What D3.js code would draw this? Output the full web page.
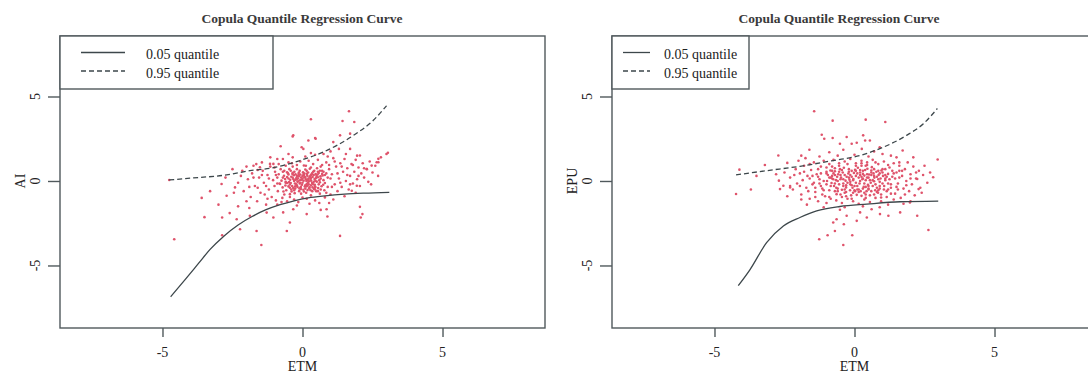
<!DOCTYPE html>
<html lang="en">
<head>
<meta charset="UTF-8">
<title>Copula Quantile Regression Curve</title>
<script src="https://d3js.org/d3.v7.min.js"></script>
<style>
    body { margin: 0; background: #fff; }
    svg { display: block; font-family: 'Liberation Serif', 'DejaVu Serif', serif; }
    .frame { fill: none; stroke: #50595c; stroke-width: 1.4; }
    .tick line { stroke: #50595c; stroke-width: 1.4; }
    .lbl { font-size: 14px; fill: #222; }
    .title { font-size: 13.5px; font-weight: bold; fill: #3a3a3a; }
    .curve { fill: none; stroke: #3d474b; stroke-width: 1.3; }
    .pt { fill: #DF536B; }
</style>
</head>
<body>
<svg id="chart" width="1088" height="372"></svg>
<script>
    const xTicks = [-5, 0, 5];
    const yTicks = [-5, 0, 5];
    const titleText = "Copula Quantile Regression Curve";
    const legendLabels = ["0.05 quantile", "0.95 quantile"];

    // quantile curves, left panel (ETM vs AI)
    const aiLowX = [-4.71, -4.2, -3.7, -3.3, -2.8, -2.3, -1.8, -1.3, -0.8, -0.3, 0.2, 0.8, 1.5, 2.2, 3.1];
    const aiLowY = [-6.85, -5.85, -4.85, -4.05, -3.25, -2.6, -2.1, -1.7, -1.4, -1.17, -1.0, -0.88, -0.78, -0.72, -0.67];
    const aiHighX = [-4.76, -3.9, -2.71, -1.88, -1.16, -0.09, 0.74, 1.82, 2.53, 3.0];
    const aiHighY = [0.06, 0.18, 0.36, 0.61, 0.75, 1.21, 1.71, 2.7, 3.59, 4.45];

    // quantile curves, right panel (ETM vs EPU)
    const epuLowX = [-4.15, -3.73, -3.14, -2.54, -1.95, -1.35, -0.52, 0.44, 1.63, 2.99];
    const epuLowY = [-6.19, -5.24, -3.65, -2.66, -2.16, -1.77, -1.51, -1.37, -1.23, -1.19];
    const epuHighX = [-4.23, -3.14, -1.95, -0.76, 0.2, 1.03, 1.86, 2.46, 2.96];
    const epuHighY = [0.36, 0.61, 0.87, 1.21, 1.51, 2.0, 2.7, 3.39, 4.29];

    // observations [ETM, AI]
    const aiPoints = [
        [-0.62,0.12],[-0.45,-0.21],[-0.31,0.34],[-0.18,-0.05],[-0.05,0.21],[0.08,-0.33],[0.21,0.15],[0.34,-0.12],[0.47,0.41],[0.6,0.05],
        [-0.71,-0.38],[-0.52,0.45],[-0.39,-0.62],[-0.24,0.08],[-0.11,-0.44],[0.02,0.52],[0.15,-0.18],[0.28,0.29],[0.41,-0.47],[0.55,0.22],
        [-0.66,0.31],[-0.48,-0.07],[-0.35,0.19],[-0.2,-0.28],[-0.08,0.05],[0.05,0.36],[0.18,-0.54],[0.31,0.02],[0.44,-0.23],[0.58,0.48],
        [-0.58,-0.55],[-0.42,0.61],[-0.27,-0.15],[-0.14,0.42],[0.0,-0.1],[0.12,0.1],[0.25,-0.38],[0.38,0.55],[0.51,-0.04],[0.68,-0.31],
        [-0.75,0.02],[-0.55,0.24],[-0.33,-0.41],[-0.16,0.27],[-0.02,-0.22],[0.1,0.68],[0.23,-0.02],[0.36,0.24],[0.49,-0.61],[0.72,0.33],
        [-0.8,-0.18],[-0.61,-0.27],[-0.44,0.07],[-0.29,0.55],[-0.12,-0.6],[0.04,0.01],[0.17,0.31],[0.3,-0.26],[0.43,0.12],[0.62,0.61],
        [-0.5,0.38],[-0.37,-0.3],[-0.22,0.18],[-0.06,-0.35],[0.07,0.44],[0.2,-0.1],[0.33,0.38],[0.46,-0.35],[0.65,0.14],[0.8,-0.12],
        [-0.28,-0.72],[-0.1,0.6],[0.13,-0.7],[0.26,0.72],[-0.47,0.7],[0.52,0.75],[0.75,0.55],[-0.68,-0.62],[0.0,0.3],[-0.15,-0.02],
        [0.1,-0.45],[0.4,0.35],[-0.25,0.4],[0.58,-0.2],[-0.4,-0.5],[0.9,0.2],[-0.85,0.4],[0.2,0.5],[-0.05,-0.75],[0.35,-0.6],
        [-2.1,-0.6],[-1.95,0.1],[-1.85,-0.95],[-1.8,0.45],[-1.7,-0.3],[-1.62,-1.2],[-1.55,0.2],[-1.5,-0.7],[-1.42,0.6],[-1.38,-0.1],
        [-1.3,-1.4],[-1.25,0.35],[-1.2,-0.5],[-1.15,0.85],[-1.1,-0.95],[-1.05,0.05],[-1.0,-0.3],[-0.98,0.55],[-0.95,-1.15],[-0.9,0.2],
        [-0.88,-0.6],[-0.85,1.0],[-0.82,-0.15],[-0.78,0.7],[-0.72,-1.0],[-0.7,0.55],[-0.65,-0.8],[-0.6,0.9],[-0.55,-1.2],[-0.5,1.1],
        [-0.45,-0.95],[-0.38,1.05],[-0.3,-1.1],[-0.2,0.95],[-0.15,-1.25],[-0.08,1.15],[0.0,-0.98],[0.05,0.92],[0.15,-1.05],[0.22,1.2],
        [0.3,-0.85],[0.38,1.0],[0.45,-1.15],[0.55,1.25],[0.62,-0.75],[0.7,0.95],[0.78,-0.55],[0.85,1.1],[0.9,-0.35],[0.95,0.7],
        [1.0,-0.8],[1.05,0.4],[1.1,1.35],[1.15,-0.2],[1.2,0.85],[1.25,-0.6],[1.3,0.15],[1.35,1.05],[1.4,-0.35],[1.45,0.55],
        [1.5,1.3],[1.55,0.0],[1.6,0.75],[1.65,-0.5],[1.7,0.3],[1.75,1.0],[1.8,-0.15],[1.85,0.55],[1.9,1.25],[1.95,0.1],
        [2.0,0.8],[2.05,-0.3],[2.1,0.45],[2.15,1.05],[2.2,0.2],[2.3,0.7],[2.35,-0.05],[2.4,1.15],[2.5,0.5],[2.6,0.9],
        [-2.2,0.3],[-2.0,-1.2],[-1.75,0.9],[-1.45,1.1],[-1.35,-0.8],[-1.15,1.4],[-0.7,1.3],[-0.35,1.4],[0.1,1.45],[0.45,1.55],
        [0.75,1.6],[1.0,1.75],[1.3,1.9],[0.6,-1.3],[-0.9,-1.4],[1.5,-0.9],[1.1,-1.1],[-1.6,0.65],[2.45,-0.2],[1.95,1.5],
        [1.66,4.13],[0.3,3.65],[1.43,3.55],[1.85,3.49],[-0.35,2.64],[-0.78,2.06],[0.47,2.5],[-4.76,0.06],[3.05,1.67],[-4.58,-3.45],
        [-3.5,-2.14],[-2.87,-2.16],[-2.87,-3.21],[-1.47,-3.79],[1.34,-3.25],[2.05,-1.53],[2.14,-1.96],[0.86,-1.67],[0.15,-1.96],[-0.45,-2.46],
        [-0.56,-2.96],[-1.64,-2.96],[-2.23,-2.86],[-2.35,-2.26],[-2.71,-0.87],[-2.41,-0.38],[-2.89,-0.18],[-1.88,-2.06],[-1.28,-1.87],[0.8,-0.97],
        [1.94,-0.28],[2.29,0.71],[2.65,1.11],[2.71,1.31],[2.47,0.91],[2.05,1.51],[1.7,1.9],[1.34,2.7],[1.1,2.3],[0.03,1.9],
        [-1.16,1.01],[-3.3,-0.6],[-3.0,-1.4],[-2.6,-1.9],[-2.5,0.7],[-3.6,-1.0],[-2.75,0.2],[-0.33,2.7],[-0.03,2.0],[0.21,2.4],
        [0.45,2.54],[1.7,2.8],[-1.04,1.01],[-1.52,0.81],[2.08,-2.16],[0.89,-2.1],[0.65,-1.71],[-0.33,-1.67],[-0.69,-1.86],[-1.04,-2.16],
        [1.76,-0.58],[3.0,1.6],[2.71,1.11],[-2.3,-1.5],[-1.9,-1.6],
        [-0.3,0.0],[-0.2,0.12],[-0.1,-0.15],[0.0,0.15],[0.1,-0.25],[0.2,0.05],[0.3,0.18],[0.4,-0.05],[0.5,0.3],[-0.4,0.25],
        [-0.55,-0.12],[-0.26,-0.45],[-0.13,0.5],[0.03,-0.52],[0.16,0.42],[0.29,-0.55],[0.42,0.6],[0.56,-0.42],[0.7,0.42],[-0.65,0.6],
        [-0.35,0.48],[-0.18,-0.35],[0.07,0.22],[0.25,0.25],[0.46,0.02],[0.62,-0.08],[-0.5,-0.32],[-0.08,0.38],[0.14,-0.32],[0.36,-0.38],
        [-0.2,0.7],[0.3,0.8],[0.65,0.85],[0.85,0.45],[1.0,0.15],[1.05,-0.35],[0.85,-0.7],[-1.0,0.8],[-1.2,0.15],[-1.3,-0.3],
        [-1.45,0.35],[-1.6,-0.4],[-1.75,0.2],[-1.9,-0.35],[-2.3,-0.1],[-2.45,-0.7],[-2.15,0.6],[-1.25,-1.05],[-0.75,-1.25],[-0.2,-1.45],
        [0.25,-1.35],[0.95,-1.3],[1.25,0.45],[1.4,0.85],[1.6,0.35],[1.8,0.95],[2.0,0.3],[2.2,0.75],[1.55,1.6],[1.15,1.15],
        [0.9,1.45],[-0.5,1.6],[-0.9,1.3],[0.3,1.65],[1.7,-0.2],[1.35,-0.1],[0.95,0.95],[-0.6,-0.05],[0.75,0.05],[-0.9,-0.15],
        [-0.95,0.35],[0.55,-0.6],[-0.45,-0.78],[0.12,0.9],[-0.35,0.85],[2.7,0.3],[2.8,1.4],[-2.0,0.85],[-1.65,1.0],[1.9,-0.7],
        [-0.42,-0.12],[-0.32,0.1],[-0.22,-0.2],[-0.12,0.3],[-0.02,0.08],[0.08,0.25],[0.18,-0.28],[0.28,0.12],[0.38,-0.2],[0.48,0.18],
        [-0.36,0.42],[-0.26,-0.32],[-0.16,0.15],[-0.06,-0.48],[0.04,0.42],[0.14,0.0],[0.24,-0.45],[0.34,0.45],[0.44,-0.38],[0.54,0.38],
        [-0.6,-0.1],[-0.5,0.15],[0.64,0.28],[0.74,-0.22],[-0.7,0.2],[0.1,0.2],[0.22,-0.2],[-0.08,-0.12],[0.3,0.35],[-0.2,0.3],
        [0.55,0.55],[-0.45,-0.4],[0.15,0.6],[0.45,-0.5],[-0.3,-0.55],[0.8,0.35],[0.7,0.6],[0.05,-0.62],[-0.55,0.52],[0.65,-0.5]
    ];

    // observations [ETM, EPU]
    const epuPoints = [
        [-0.95,0.35],[-0.82,-0.12],[-0.7,0.58],[-0.6,-0.45],[-0.48,0.2],[-0.35,-0.7],[-0.22,0.44],[-0.1,-0.25],[0.02,0.66],[0.15,-0.5],
        [0.28,0.1],[0.4,-0.8],[0.52,0.38],[0.65,-0.3],[0.78,0.55],[0.9,-0.05],[1.02,0.3],[1.15,-0.6],[-0.9,-0.55],[-0.76,0.1],
        [-0.64,-0.78],[-0.52,0.7],[-0.4,-0.15],[-0.28,0.25],[-0.16,-0.55],[-0.04,0.12],[0.08,-0.82],[0.2,0.5],[0.33,-0.35],[0.46,0.72],
        [0.58,-0.1],[0.71,0.2],[0.84,-0.7],[0.96,0.62],[1.1,0.05],[-0.98,0.0],[-0.86,0.62],[-0.73,-0.3],[-0.58,0.4],[-0.45,-0.52],
        [-0.32,0.02],[-0.2,0.7],[-0.07,-0.4],[0.05,0.3],[0.18,-0.15],[0.3,0.6],[0.43,-0.6],[0.55,0.05],[0.68,0.45],[0.8,-0.4],
        [0.93,0.15],[1.06,-0.3],[1.2,0.42],[-0.8,0.3],[-0.66,0.05],[-0.55,-0.2],[-0.42,0.5],[-0.3,-0.38],[-0.18,0.08],[-0.05,-0.7],
        [0.1,0.45],[0.22,-0.6],[0.35,0.32],[0.48,-0.22],[0.6,0.62],[0.74,-0.55],[0.86,0.35],[1.0,-0.15],[-0.38,0.78],[0.12,0.78],
        [0.62,0.82],[-0.7,-0.6],[0.25,-0.88],[-0.12,-0.85],[0.95,-0.8],[-0.25,-0.1],[0.4,0.05],[0.05,-0.1],[-0.5,0.1],[0.7,-0.02],
        [-0.15,0.35],[0.3,-0.45],[-0.62,0.25],[0.85,0.1],[0.15,0.2],[-0.35,-0.5],[0.5,-0.45],[1.1,0.7],[-0.02,0.48],[0.45,0.4],
        [-2.3,0.2],[-2.2,-0.5],[-2.1,0.7],[-2.05,-0.15],[-1.95,0.45],[-1.9,-0.8],[-1.85,0.05],[-1.8,0.9],[-1.72,-0.4],[-1.68,0.3],
        [-1.6,-1.05],[-1.55,0.65],[-1.5,-0.2],[-1.45,1.1],[-1.4,-0.65],[-1.35,0.4],[-1.3,-1.2],[-1.25,0.1],[-1.2,0.85],[-1.15,-0.45],
        [-1.1,1.2],[-1.05,-0.9],[-1.0,0.55],[-1.0,-1.3],[-0.9,1.0],[-0.85,-1.05],[-0.75,1.25],[-0.65,-1.15],[-0.55,1.05],[-0.45,-1.3],
        [-0.35,1.15],[-0.25,-1.05],[-0.15,1.3],[-0.05,-1.2],[0.05,1.05],[0.15,-1.35],[0.25,1.2],[0.35,-1.1],[0.45,1.1],[0.55,-1.25],
        [0.65,1.25],[0.75,-1.0],[0.85,1.0],[0.95,-1.2],[1.05,1.15],[1.15,-0.95],[1.25,0.8],[1.3,-0.4],[1.35,0.25],[1.4,1.05],
        [1.45,-0.75],[1.5,0.5],[1.55,-0.15],[1.6,0.9],[1.65,-1.0],[1.7,0.3],[1.75,-0.45],[1.8,0.7],[1.85,0.0],[1.9,1.1],
        [1.95,-0.6],[2.0,0.4],[2.05,-0.2],[2.1,0.85],[2.15,-0.85],[2.2,0.15],[2.3,0.6],[2.35,-0.4],[2.45,0.35],[2.6,-0.1],
        [-2.4,-0.9],[-2.5,0.5],[-1.75,1.35],[-1.25,1.45],[-0.6,1.5],[0.0,1.55],[0.5,1.45],[1.0,1.6],[1.5,1.4],[-1.7,-1.4],
        [-1.1,-1.55],[0.3,-1.5],[1.2,-1.4],[2.0,-1.2],[2.5,0.9],[-0.8,0.15],[-2.0,1.2],[1.35,0.6],[1.2,-0.15],[-1.45,-0.1],
        [-1.6,0.15],[1.6,0.2],[-1.0,-0.2],[1.1,0.35],[-1.2,0.45],[0.9,-0.45],[-0.3,-0.9],[0.4,0.9],[-0.8,0.85],[0.7,-0.8],
        [-1.44,4.13],[-0.78,3.57],[0.4,3.63],[1.1,3.49],[2.97,1.27],[1.72,1.8],[-4.11,0.67],[-4.23,-0.77],[-3.2,0.95],[-2.72,1.51],
        [-2.4,1.07],[-1.61,1.85],[-1.17,2.74],[-1.08,2.5],[-0.78,2.54],[-0.52,2.2],[-0.28,2.6],[-0.1,2.2],[0.08,2.26],[0.31,2.7],
        [0.55,2.4],[0.38,2.4],[0.26,1.9],[-2.7,0.02],[-2.66,-0.48],[-2.54,-0.28],[-2.3,-0.38],[2.24,0.12],[2.29,-0.48],[2.81,0.22],
        [2.24,-2.06],[2.64,-2.9],[-1.26,-3.45],[-0.96,-3.21],[-0.4,-3.79],[-0.08,-3.21],[-0.7,-2.96],[-0.38,-2.56],[-0.76,-2.46],[-0.64,-2.26],
        [0.08,-2.36],[0.44,-2.16],[0.61,-1.67],[0.91,-1.96],[1.21,-2.06],[1.63,-1.86],[0.2,-1.86],[-0.28,-2.06],[1.98,-1.27],[-0.52,-1.7],
        [-0.2,0.2],[0.0,-0.3],[0.2,0.0],[0.35,-0.15],[0.5,0.2],[-0.4,-0.3],[0.6,-0.6],[0.8,0.25],[-0.6,0.0],[-0.1,0.6],
        [0.15,-0.65],[0.3,0.42],[-0.45,0.65],[0.9,0.45],[1.05,-0.5],[-0.85,-0.3],[-0.75,0.45],[0.7,0.7],[0.55,-0.85],[-0.3,-0.65],
        [0.05,0.9],[-0.55,0.9],[0.45,0.95],[1.25,0.1],[1.3,-0.75],[1.2,0.95],[-1.1,0.0],[-1.15,-0.8],[-1.3,0.7],[-1.5,0.3],
        [-1.65,-0.6],[-1.8,0.55],[-1.95,-0.3],[1.45,0.15],[1.55,-0.5],[1.7,0.6],[1.85,-0.25],[2.0,0.15],[2.2,0.5],[1.8,-0.8],
        [-0.25,1.0],[0.25,1.05],[0.75,1.1],[-0.9,-0.95],[-0.1,-1.05],[0.4,-1.0],[0.95,-0.98],[-1.4,-0.95],[1.4,-1.1],[-2.15,0.35],
        [-0.05,0.05],[0.1,-0.5],[0.6,0.35],[-0.65,-0.4],[-0.35,0.35],[0.25,0.25],[0.75,-0.2],[-0.85,0.2],[1.0,0.5],[-0.15,-0.2],
        [0.38,0.65],[0.85,-0.55],[-0.5,-0.8],[0.02,-0.6],[-0.7,0.75],[1.15,0.25],[-1.0,0.8],[-1.2,-0.3],[0.2,0.65],[-0.4,0.1],
        [0.5,-0.3],[1.6,1.1],[-1.6,1.0],[2.4,-0.7],[-2.3,-0.3],[2.7,0.5],[-1.9,1.5],[-0.4,1.85],[0.7,1.75],[0.9,2.0],
        [-0.9,1.7],[1.3,1.5],[-2.8,0.4],[-3.5,0.3],[-3.7,-0.5],[2.1,1.4],[-0.35,-1.55],[0.9,-1.55],[-1.9,-1.1],[1.75,-1.35],
        [-0.9,0.2],[-0.7,-0.15],[-0.5,0.35],[-0.3,-0.25],[-0.1,0.25],[0.1,-0.3],[0.3,0.15],[0.5,-0.5],[0.7,0.3],[0.9,-0.3],
        [1.1,0.15],[1.3,-0.2],[-1.3,0.25],[-1.1,-0.55],[-0.8,0.6],[-0.6,-0.6],[-0.2,0.55],[0.0,-0.55],[0.2,0.35],[0.4,-0.35],
        [0.6,0.5],[0.8,-0.65],[1.0,0.7],[1.2,-0.5],[1.4,0.45],[-1.4,-0.4],[-1.0,0.45],[0.25,0.9],[-0.45,-0.95],[0.65,0.05],
        [-0.15,-0.05],[0.45,0.2],[0.85,0.6],[-0.7,0.35],[1.5,-0.35],[-1.25,-0.15],[0.05,0.6],[0.35,-0.7],[-0.55,0.55],[1.6,0.6]
    ];

    const svg = d3.select("#chart");

    function drawPanel(left, right, yName, points, lowX, lowY, highX, highY, titleX, legendW, lineX1, lineX2, textX) {
        const top = 36, bottom = 328;
        // zero sits at the middle of the x range, y zero a little above middle
        let x = d3.scaleLinear().domain([-8.66, 8.66]).range([left, right]);
        let y = d3.scaleLinear().domain([-8.7, 8.58]).range([bottom, top]);

        let g = svg.append("g");

        g.selectAll(".pt")
            .data(points)
            .enter()
            .append("circle")
            .attr("class", "pt")
            .attr("cx", d => x(d[0]))
            .attr("cy", d => y(d[1]))
            .attr("r", 1.3);

        let line = d3.line().curve(d3.curveMonotoneX).x(d => x(d[0])).y(d => y(d[1]));
        g.append("path")
            .attr("class", "curve")
            .attr("d", line(lowX.map((v, i) => [v, lowY[i]])));
        g.append("path")
            .attr("class", "curve")
            .attr("stroke-dasharray", "5,3")
            .attr("d", line(highX.map((v, i) => [v, highY[i]])));

        // bottom axis
        let xAxis = g.append("g")
            .attr("transform", `translate(0,${bottom})`)
            .call(d3.axisBottom(x).tickValues(xTicks).tickSize(9).tickFormat(""));
        xAxis.select(".domain").remove();
        g.selectAll(".xt")
            .data(xTicks)
            .enter()
            .append("text")
            .attr("class", "lbl")
            .attr("x", d => x(d))
            .attr("y", 356.5)
            .attr("text-anchor", "middle")
            .text(d => d);

        // left axis, labels parallel to the axis
        let yAxis = g.append("g")
            .attr("transform", `translate(${left},0)`)
            .call(d3.axisLeft(y).tickValues(yTicks).tickSize(12).tickFormat(""));
        yAxis.select(".domain").remove();
        g.selectAll(".yt")
            .data(yTicks)
            .enter()
            .append("text")
            .attr("class", "lbl")
            .attr("transform", d => `translate(${left - 20},${y(d)}) rotate(-90)`)
            .attr("text-anchor", "middle")
            .text(d => d);

        g.append("text")
            .attr("class", "lbl")
            .attr("x", x(0))
            .attr("y", 370.5)
            .attr("text-anchor", "middle")
            .text("ETM");
        g.append("text")
            .attr("class", "lbl")
            .attr("transform", `translate(${left - 35},${y(0)}) rotate(-90)`)
            .attr("text-anchor", "middle")
            .text(yName);

        g.append("text")
            .attr("class", "title")
            .attr("x", titleX)
            .attr("y", 23)
            .attr("text-anchor", "middle")
            .text(titleText);

        g.append("rect")
            .attr("class", "frame")
            .attr("x", left)
            .attr("y", top)
            .attr("width", right - left)
            .attr("height", bottom - top);

        // legend
        let lg = g.append("g");
        lg.append("rect")
            .attr("class", "frame")
            .attr("x", left)
            .attr("y", top)
            .attr("width", legendW)
            .attr("height", 53)
            .style("fill", "#fff");
        legendLabels.forEach((lab, i) => {
            let ly = 52.5 + i * 18.5;
            lg.append("line")
                .attr("class", "curve")
                .attr("x1", lineX1).attr("x2", lineX2)
                .attr("y1", ly).attr("y2", ly)
                .attr("stroke-dasharray", i === 1 ? "5,3" : null);
            lg.append("text")
                .attr("class", "lbl")
                .attr("x", textX)
                .attr("y", ly + 6.5)
                .text(lab);
        });
    }

    drawPanel(60, 545, "AI", aiPoints, aiLowX, aiLowY, aiHighX, aiHighY, 302, 213, 81, 125, 146);
    drawPanel(612, 1097, "EPU", epuPoints, epuLowX, epuLowY, epuHighX, epuHighY, 839, 137, 623, 650, 664);
</script>
</body>
</html>
